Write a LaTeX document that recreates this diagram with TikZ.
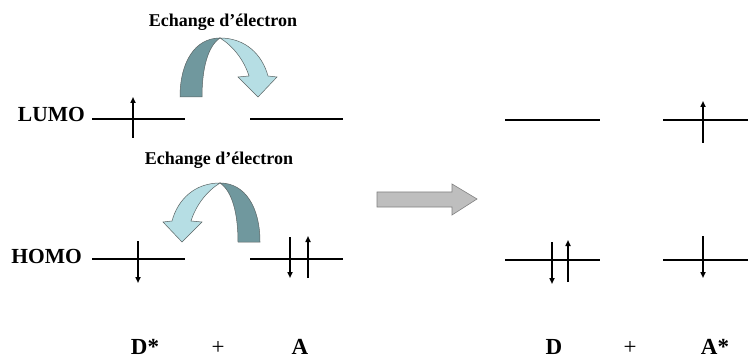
\documentclass[tikz,border=0pt]{standalone}
\usepackage{fontspec}
\setmainfont{Liberation Serif}
\usetikzlibrary{arrows.meta}
\definecolor{ribdark}{RGB}{112,152,158}
\definecolor{riblight}{RGB}{182,222,228}
\definecolor{ribline}{RGB}{90,100,100}
\definecolor{bigfill}{RGB}{190,190,190}
\definecolor{bigline}{RGB}{130,130,130}
\tikzset{
  level/.style={line width=1.5pt, black},
  spin/.style={line width=1.6pt, black, -{Triangle[length=6pt,width=5pt]}},
  lvl/.style={font=\bfseries\fontsize{21.5}{24}\selectfont, anchor=base east, inner sep=0pt, text depth=0pt},
  species/.style={font=\bfseries\fontsize{23}{26}\selectfont, anchor=base, inner sep=0pt, text depth=0pt},
  plus/.style={font=\fontsize{23}{26}\selectfont, anchor=base, inner sep=0pt, text depth=0pt},
  xlabel/.style={font=\bfseries\fontsize{18}{20}\selectfont, anchor=base, inner sep=0pt},
  rdark/.style={fill=ribdark, draw=ribline, line width=0.5pt},
  rlight/.style={fill=riblight, draw=ribline, line width=0.5pt},
}
\begin{document}
\begin{tikzpicture}[x=1pt, y=-1pt]
\useasboundingbox (0,0) rectangle (749,358);
\fill[white] (0,0) rectangle (749,358);

% level labels
\node[lvl] (lumo) at (85,122) {LUMO};
\node[lvl] (homo) at (82,263) {HOMO};

% exchange labels
\node[xlabel] (ex1) at (223,27) {Echange d’électron};
\node[xlabel] (ex2) at (219,165) {Echange d’électron};

% energy levels
\draw[level] (92,119) -- (185,119);
\draw[level] (250,119) -- (343,119);
\draw[level] (92,259) -- (185,259);
\draw[level] (250,259) -- (343,259);
\draw[level] (505,120) -- (600,120);
\draw[level] (663,120) -- (748,120);
\draw[level] (505,260) -- (600,260);
\draw[level] (663,260) -- (748,260);

% electron spins
\coordinate (s1a) at (133,138); \coordinate (s1b) at (133,97);
\draw[spin] (s1a) -- (s1b);
\coordinate (s2a) at (138,241); \coordinate (s2b) at (138,283);
\draw[spin] (s2a) -- (s2b);
\coordinate (s3a) at (290,237); \coordinate (s3b) at (290,278);
\draw[spin] (s3a) -- (s3b);
\coordinate (s4a) at (308,278); \coordinate (s4b) at (308,236);
\draw[spin] (s4a) -- (s4b);
\coordinate (s5a) at (552,242); \coordinate (s5b) at (552,284);
\draw[spin] (s5a) -- (s5b);
\coordinate (s6a) at (568,282); \coordinate (s6b) at (568,240);
\draw[spin] (s6a) -- (s6b);
\coordinate (s7a) at (703,143); \coordinate (s7b) at (703,101);
\draw[spin] (s7a) -- (s7b);
\coordinate (s8a) at (703,236); \coordinate (s8b) at (703,278);
\draw[spin] (s8a) -- (s8b);

% top curved exchange arrow
\draw[rdark] (180,97) .. controls (180,62) and (195,38) .. (220,38)
  .. controls (208,46) and (202,68) .. (202,97) -- cycle;
\draw[rlight] (220,38) .. controls (245,38) and (262,54) .. (268,76)
  -- (277,77) -- (258,97) -- (238,77) -- (249,76)
  .. controls (244,60) and (233,46) .. (220,38) -- cycle;

% bottom curved exchange arrow (mirrored)
\begin{scope}[shift={(440,145)}, xscale=-1]
\draw[rdark] (180,97) .. controls (180,62) and (195,38) .. (220,38)
  .. controls (208,46) and (202,68) .. (202,97) -- cycle;
\draw[rlight] (220,38) .. controls (245,38) and (262,54) .. (268,76)
  -- (277,77) -- (258,97) -- (238,77) -- (249,76)
  .. controls (244,60) and (233,46) .. (220,38) -- cycle;
\end{scope}

% big reaction arrow
\draw[fill=bigfill, draw=bigline, line width=0.6pt]
  (377,192) -- (452,192) -- (452,184) -- (477,199) -- (452,215) -- (452,207) -- (377,207) -- cycle;

% species
\node[species] (dstar) at (145,354) {D*};
\node[plus] (p1) at (218,354) {+};
\node[species] (a) at (300,354) {A};
\node[species] (d) at (554,354) {D};
\node[plus] (p2) at (630,354) {+};
\node[species] (astar) at (715,354) {A*};
\end{tikzpicture}
\end{document}
